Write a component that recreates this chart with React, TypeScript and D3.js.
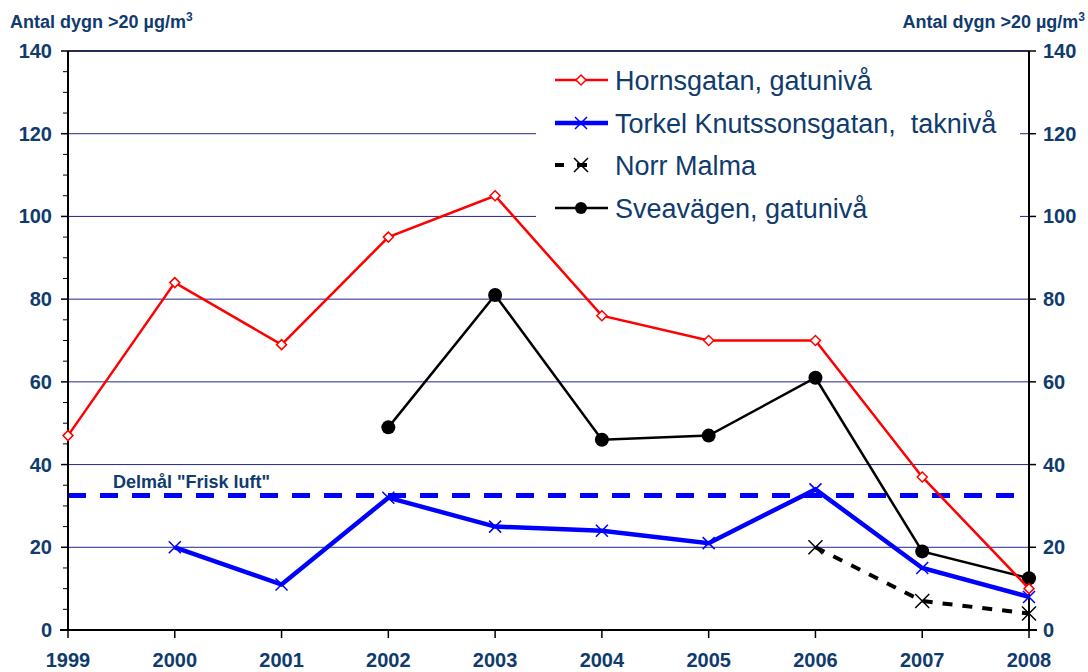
import React from "react";
import * as d3 from "d3";

const years = [1999, 2000, 2001, 2002, 2003, 2004, 2005, 2006, 2007, 2008];
const hornsgatan = [47, 84, 69, 95, 105, 76, 70, 70, 37, 10];
const torkel = [null, 20, 11, 32, 25, 24, 21, 34, 15, 8];
const norrMalma = [null, null, null, null, null, null, null, 20, 7, 4];
const sveavagen = [null, null, null, 49, 81, 46, 47, 61, 19, 12.5];
const delmal = 32.5;
const yTicks = [0, 20, 40, 60, 80, 100, 120, 140];

const W = 1088;
const H = 672;
const margin = { left: 68, right: 59, top: 51, bottom: 42 };
const navy = "#0f3b6e";
const font = "'Liberation Sans', Arial, sans-serif";

export default function App() {
  const x = d3.scaleLinear().domain([1999, 2008]).range([margin.left, W - margin.right]);
  const y = d3.scaleLinear().domain([0, 140]).range([H - margin.bottom, margin.top]);
  const x0 = margin.left;
  const x1 = W - margin.right;
  const yb = H - margin.bottom;

  const toPts = (vals: (number | null)[]) =>
    years.map((yr, i) => ({ yr, v: vals[i] })).filter((d) => d.v !== null) as { yr: number; v: number }[];

  const line = d3.line<{ yr: number; v: number }>().x((d) => x(d.yr)).y((d) => y(d.v));

  const minor = d3.range(0, 141, 5).filter((v) => v % 20 !== 0);

  const diamond = (cx: number, cy: number, s: number) =>
    `M${cx},${cy - s}L${cx + s},${cy}L${cx},${cy + s}L${cx - s},${cy}Z`;
  const cross = (cx: number, cy: number, s: number) =>
    `M${cx - s},${cy - s}L${cx + s},${cy + s}M${cx - s},${cy + s}L${cx + s},${cy - s}`;

  const legendX = 555;
  const legendRows = [80, 123, 165, 208];
  const legendFs = 27;

  return (
    <svg width={W} height={H} style={{ position: "absolute", left: 0, top: 0, background: "#fff" }} fontFamily={font}>
      {/* gridlines */}
      {yTicks.filter((t) => t > 0).map((t) => (
        <line key={t} x1={x0} x2={x1} y1={y(t)} y2={y(t)} stroke={t === 140 ? "#2a2a5a" : "#24248f"} strokeWidth={t === 140 ? 2 : 1} />
      ))}

      {/* legend background covering gridlines */}
      <rect x={536} y={58} width={484} height={174} fill="#fff" />

      {/* delmål line */}
      <line x1={x0} x2={x1} y1={y(delmal)} y2={y(delmal)} stroke="#0000ff" strokeWidth={5} strokeDasharray="18,14" />
      <text x={113} y={488} fontSize={18} fontWeight="bold" fill={navy}>Delmål "Frisk luft"</text>

      {/* axes */}
      <line x1={x0} x2={x0} y1={margin.top} y2={yb} stroke="#000" strokeWidth={2} />
      <line x1={x1} x2={x1} y1={margin.top} y2={yb} stroke="#000" strokeWidth={2} />
      <line x1={x0 - 8} x2={x1 + 8} y1={yb} y2={yb} stroke="#000" strokeWidth={2} />
      {yTicks.map((t) => (
        <g key={t}>
          <line x1={x0 - 7} x2={x0} y1={y(t)} y2={y(t)} stroke="#000" strokeWidth={1.5} />
          <line x1={x1} x2={x1 + 7} y1={y(t)} y2={y(t)} stroke="#000" strokeWidth={1.5} />
          <text x={52} y={y(t) + 7} textAnchor="end" fontSize={20} fontWeight="bold" fill={navy}>{t}</text>
          <text x={1043} y={y(t) + 7} textAnchor="start" fontSize={20} fontWeight="bold" fill={navy}>{t}</text>
        </g>
      ))}
      {minor.map((t) => (
        <line key={t} x1={x0 - 5} x2={x0} y1={y(t)} y2={y(t)} stroke="#000" strokeWidth={1} />
      ))}
      {years.map((yr) => (
        <g key={yr}>
          <line x1={x(yr)} x2={x(yr)} y1={yb} y2={yb + 8} stroke="#000" strokeWidth={1.5} />
          <text x={x(yr)} y={667} textAnchor="middle" fontSize={20} fontWeight="bold" fill={navy}>{yr}</text>
        </g>
      ))}

      {/* axis titles */}
      <text x={10} y={28} fontSize={18} fontWeight="bold" fill={navy}>
        Antal dygn &gt;20 µg/m<tspan dy={-7} fontSize={12}>3</tspan>
      </text>
      <text x={1085} y={28} textAnchor="end" fontSize={18} fontWeight="bold" fill={navy}>
        Antal dygn &gt;20 µg/m<tspan dy={-7} fontSize={12}>3</tspan>
      </text>

      {/* Norr Malma */}
      <path d={line(toPts(norrMalma)) || ""} fill="none" stroke="#000" strokeWidth={4} strokeDasharray="10,10" />
      {toPts(norrMalma).map((d) => (
        <path key={d.yr} d={cross(x(d.yr), y(d.v), 7)} stroke="#000" strokeWidth={1.5} fill="none" />
      ))}

      {/* Torkel Knutssonsgatan */}
      <path d={line(toPts(torkel)) || ""} fill="none" stroke="#0000ff" strokeWidth={4.5} />
      {toPts(torkel).map((d) => (
        <path key={d.yr} d={cross(x(d.yr), y(d.v), 6)} stroke="#0000ff" strokeWidth={1.5} fill="none" />
      ))}

      {/* Sveavägen */}
      <path d={line(toPts(sveavagen)) || ""} fill="none" stroke="#000" strokeWidth={2.5} />
      {toPts(sveavagen).map((d) => (
        <circle key={d.yr} cx={x(d.yr)} cy={y(d.v)} r={7} fill="#000" />
      ))}

      {/* Hornsgatan */}
      <path d={line(toPts(hornsgatan)) || ""} fill="none" stroke="#ff0000" strokeWidth={2.5} />
      {toPts(hornsgatan).map((d) => (
        <path key={d.yr} d={diamond(x(d.yr), y(d.v), 5)} fill="#fff" stroke="#ff0000" strokeWidth={1.5} />
      ))}

      {/* legend */}
      <g>
        <line x1={legendX} x2={legendX + 53} y1={legendRows[0]} y2={legendRows[0]} stroke="#ff0000" strokeWidth={2.5} />
        <path d={diamond(legendX + 26, legendRows[0], 5)} fill="#fff" stroke="#ff0000" strokeWidth={1.5} />
        <text x={615} y={legendRows[0] + 10} fontSize={legendFs} fill={navy}>Hornsgatan, gatunivå</text>

        <line x1={legendX} x2={legendX + 53} y1={legendRows[1]} y2={legendRows[1]} stroke="#0000ff" strokeWidth={4.5} />
        <path d={cross(legendX + 26, legendRows[1], 6)} stroke="#0000ff" strokeWidth={1.5} fill="none" />
        <text x={615} y={legendRows[1] + 10} fontSize={legendFs} fill={navy} style={{ whiteSpace: "pre" }}>Torkel Knutssonsgatan,  taknivå</text>

        <line x1={legendX} x2={legendX + 9} y1={legendRows[2]} y2={legendRows[2]} stroke="#000" strokeWidth={4} />
        <line x1={legendX + 22} x2={legendX + 32} y1={legendRows[2]} y2={legendRows[2]} stroke="#000" strokeWidth={4} />
        <path d={cross(legendX + 26, legendRows[2], 7)} stroke="#000" strokeWidth={1.5} fill="none" />
        <text x={615} y={legendRows[2] + 10} fontSize={legendFs} fill={navy}>Norr Malma</text>

        <line x1={legendX} x2={legendX + 53} y1={legendRows[3]} y2={legendRows[3]} stroke="#000" strokeWidth={2.5} />
        <circle cx={legendX + 26} cy={legendRows[3]} r={6} fill="#000" />
        <text x={615} y={legendRows[3] + 10} fontSize={legendFs} fill={navy}>Sveavägen, gatunivå</text>
      </g>
    </svg>
  );
}
